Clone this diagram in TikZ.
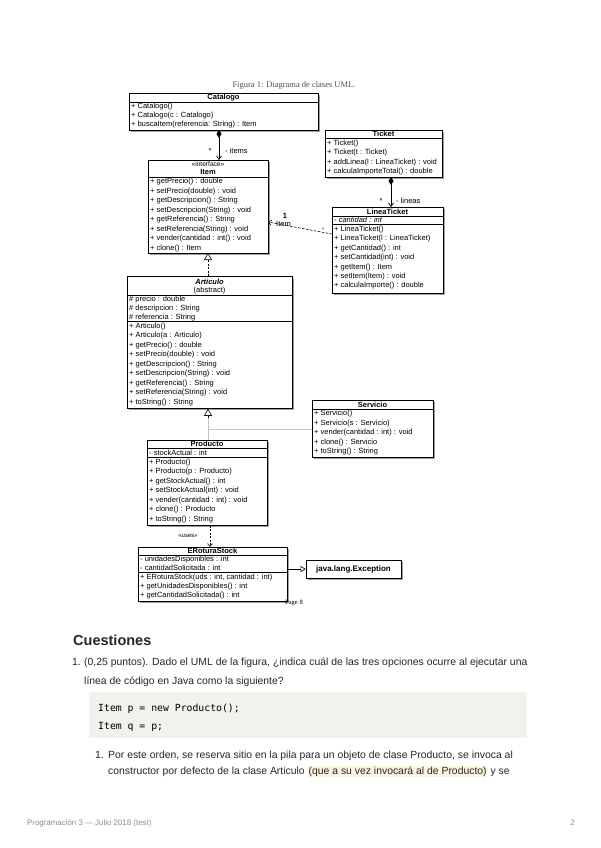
\documentclass[tikz,border=0pt]{standalone}
\usepackage{fontspec}
\setmainfont{Liberation Sans}
\newfontfamily\serifface{Liberation Serif}
\newfontfamily\monoface{DejaVu Sans Mono}
\usetikzlibrary{shadows,arrows.meta,calc}
\definecolor{codebg}{HTML}{F3F1EE}
\definecolor{hlcol}{HTML}{FDF4DF}
\definecolor{genline}{HTML}{C4C4C4}
\definecolor{footcol}{HTML}{8C8C8C}
\definecolor{captcol}{HTML}{505050}
\newcommand{\umlf}{\fontsize{7.5}{8}\selectfont}
\newcommand{\umlrows}[5]{%
  \foreach \t [count=\i from 0] in {#5} {%
    \node[umltxt] (#1\i) at (#2,{#3+#4*\i}) {\t};}}
\tikzset{
  umlbox/.style={draw, line width=0.8pt, fill=white, rectangle, inner sep=0pt, anchor=north west,
    drop shadow={shadow xshift=2pt, shadow yshift=-2pt, opacity=0.5, fill=black!75}},
  umltxt/.style={anchor=west, inner sep=0pt, font=\umlf},
  umltitle/.style={inner sep=0pt, font=\umlf\bfseries},
  sepline/.style={line width=0.6pt},
  body/.style={anchor=base west, inner sep=0pt, font=\fontsize{10.4}{12}\selectfont, text=black!85},
  codetxt/.style={anchor=base west, inner sep=0pt, font=\monoface\fontsize{9.8}{11}\selectfont, text=black},
}
\begin{document}
\begin{tikzpicture}[x=1pt,y=-1pt]
\useasboundingbox (0,0) rectangle (600,848);
\fill[white] (0,0) rectangle (600,848);

% caption
\node[inner sep=0pt, font=\serifface\fontsize{8.5}{9}\selectfont, text=captcol] (caption) at (294,85) {Figura 1: Diagrama de clases UML.};

% ---------- Catalogo
\node[umlbox, minimum width=189pt, minimum height=37pt] (catalogo) at (129,93) {};
\node[umltitle] (catT) at (223.5,97.5) {Catalogo};
\draw[sepline] (129,102) -- (318,102);
\umlrows{cat}{131}{107}{9}{{+ Catalogo()},{+ Catalogo(c : Catalogo)},{+ buscaItem(referencia: String) : Item}}

% ---------- Ticket
\node[umlbox, minimum width=117pt, minimum height=47pt] (ticket) at (325,130) {};
\node[umltitle] (ticT) at (383.5,134) {Ticket};
\draw[sepline] (325,138.5) -- (442,138.5);
\umlrows{tic}{327}{143.5}{9.5}{{+ Ticket()},{+ Ticket(t : Ticket)},{+ addLinea(l : LineaTicket) : void},{+ calculaImporteTotal() : double}}

% ---------- Item
\node[umlbox, minimum width=120pt, minimum height=93pt] (item) at (148,160) {};
\node[inner sep=0pt, font=\fontsize{6.6}{7}\selectfont] (itemS) at (208,164.5) {<<interface>>};
\node[umltitle] (itemT) at (208,172) {Item};
\draw[sepline] (148,177) -- (268,177);
\umlrows{itm}{150}{182}{9.5}{{+ getPrecio() : double},{+ setPrecio(double) : void},{+ getDescripcion() : String},{+ setDescripcion(String) : void},{+ getReferencia() : String},{+ setReferencia(String) : void},{+ vender(cantidad : int() : void},{+ clone() : Item}}

% ---------- LineaTicket
\node[umlbox, minimum width=111pt, minimum height=86pt] (linea) at (332,207) {};
\node[umltitle] (linT) at (387.5,211.5) {LineaTicket};
\draw[sepline] (332,216) -- (443,216);
\node[umltxt, font=\umlf\itshape] (linA) at (334,220.2) {- cantidad : int};
\draw[sepline] (332,224.5) -- (443,224.5);
\umlrows{lin}{334}{229.5}{9.4}{{+ LineaTicket()},{+ LineaTicket(l : LineaTicket)},{+ getCantidad() : int},{+ setCantidad(int) : void},{+ getItem() : Item},{+ setItem(Item) : void},{+ calculaImporte() : double}}

% ---------- Articulo
\node[umlbox, minimum width=165pt, minimum height=132pt] (articulo) at (127,276) {};
\node[umltitle, font=\umlf\bfseries\itshape] (artT) at (209.5,282) {Articulo};
\node[inner sep=0pt, font=\umlf] (artS) at (209.5,290.5) {(abstract)};
\draw[sepline] (127,295) -- (292,295);
\umlrows{arta}{129}{299.6}{8.8}{{\# precio : double},{\# descripcion : String},{\# referencia : String}}
\draw[sepline] (127,321.5) -- (292,321.5);
\umlrows{artm}{129}{326.5}{9.5}{{+ Articulo()},{+ Articulo(a : Articulo)},{+ getPrecio() : double},{+ setPrecio(double) : void},{+ getDescripcion() : String},{+ setDescripcion(String) : void},{+ getReferencia() : String},{+ setReferencia(String) : void},{+ toString() : String}}

% ---------- Servicio
\node[umlbox, minimum width=121pt, minimum height=57pt] (servicio) at (312,400) {};
\node[umltitle] (serT) at (372.5,404.5) {Servicio};
\draw[sepline] (312,409) -- (433,409);
\umlrows{ser}{314}{414}{9.5}{{+ Servicio()},{+ Servicio(s : Servicio)},{+ vender(cantidad : int) : void},{+ clone() : Servicio},{+ toString() : String}}

% ---------- Producto
\node[umlbox, minimum width=120pt, minimum height=85pt] (producto) at (147,440) {};
\node[umltitle] (proT) at (207,444) {Producto};
\draw[sepline] (147,448.5) -- (267,448.5);
\node[umltxt] (proA) at (149,453) {- stockActual : int};
\draw[sepline] (147,457.5) -- (267,457.5);
\umlrows{pro}{149}{462.5}{9.5}{{+ Producto()},{+ Producto(p : Producto)},{+ getStockActual() : int},{+ setStockActual(int) : void},{+ vender(cantidad : int) : void},{+ clone() : Producto},{+ toString() : String}}

% ---------- ERoturaStock
\node[umlbox, minimum width=149pt, minimum height=54pt] (erotura) at (138,547) {};
\node[umltitle] (eroT) at (212.5,551) {ERoturaStock};
\draw[sepline] (138,555) -- (287,555);
\umlrows{eroa}{140}{559.6}{8.6}{{- unidadesDisponibles : int},{- cantidadSolicitada : int}}
\draw[sepline] (138,572.6) -- (287,572.6);
\umlrows{erom}{140}{577.6}{9}{{+ ERoturaStock(uds : int, cantidad : int)},{+ getUnidadesDisponibles() : int},{+ getCantidadSolicitada() : int}}

% ---------- java.lang.Exception
\node[draw, line width=0.8pt, fill=white, minimum width=95pt, minimum height=18pt, inner sep=0pt,
  drop shadow={shadow xshift=2pt, shadow yshift=-2pt, opacity=0.5, fill=black!75},
  font=\fontsize{8}{9}\selectfont\bfseries] (exc) at (353.5,569) {java.lang.Exception};
\node[inner sep=0pt, font=\serifface\fontsize{6.5}{7}\selectfont] (page8) at (294,603.5) {Page 8};

% ---------- connectors
\coordinate (cdia) at (219,130);
\draw[line width=0.7pt, {Diamond[length=8pt,width=5pt]}-{Straight Barb[length=3.5pt,width=5pt]}] (cdia) -- (cdia |- item.north);
\node[inner sep=0pt, font=\umlf] (itemsStar) at (210,151) {*};
\node[umltxt] (itemsL) at (225,151) {- items};

\coordinate (tdia) at (391,177);
\draw[line width=0.7pt, {Diamond[length=8pt,width=5pt]}-{Straight Barb[length=3.5pt,width=5pt]}] (tdia) -- (tdia |- linea.north);
\node[inner sep=0pt, font=\umlf] (linStar) at (381,201) {*};
\node[umltxt] (linL) at (396,201) {- lineas};

\coordinate (lia) at (332,234);
\coordinate (ib) at (268,222);
\draw[line width=0.6pt, dash pattern=on 2.5pt off 1.5pt, -{Straight Barb[length=3pt,width=5pt]}] (lia) -- (ib);
\node[inner sep=0pt, font=\umlf\bfseries] (one) at (285,216) {1};
\node[umltxt] (itemRole) at (276,224) {Item};
\node[inner sep=0pt, font=\fontsize{5}{5}\selectfont] (caret) at (323,230) {\^{}};

\coordinate (itb) at (208,253);
\draw[line width=0.6pt, dash pattern=on 2pt off 1.5pt, -{Triangle[open,length=7pt,width=8pt]}] (itb |- articulo.north) -- (itb);

\coordinate (gj) at (208,429);
\coordinate (atri) at (208,418);
\draw[genline, line width=0.8pt] (gj |- producto.north) -- (atri);
\draw[genline, line width=0.8pt] (gj) -- (gj -| servicio.west);
\draw[line width=0.6pt, -{Triangle[open,length=7pt,width=8pt]}] (atri) -- (atri |- articulo.south);

\coordinate (ud) at (210,526);
\draw[line width=0.6pt, dash pattern=on 2pt off 1.5pt, -{Straight Barb[length=3pt,width=5pt]}] (ud |- producto.south) -- (ud |- erotura.north);
\node[inner sep=0pt, font=\fontsize{6}{6}\selectfont] (usesL) at (188,535.5) {<<uses>>};

\draw[line width=0.6pt, -{Triangle[open,length=5pt,width=6pt]}] (erotura.east |- exc.west) -- (exc.west);

% ---------- text of page
\node[anchor=base west, inner sep=0pt, font=\fontsize{14.5}{18}\selectfont\bfseries, text=black!85] (cuest) at (73,645) {Cuestiones};
\node[body] (q1n) at (72,665) {1.};
\node[body] (q1a) at (84,665) {(0,25 puntos). Dado el UML de la figura, ¿indica cuál de las tres opciones ocurre al ejecutar una};
\node[body] (q1b) at (84,684) {línea de código en Java como la siguiente?};

\node[fill=codebg, anchor=north west, minimum width=438pt, minimum height=46pt, inner sep=0pt] (codebox) at (89,692) {};
\node[codetxt] (code1) at (98,711) {Item p = new Producto();};
\node[codetxt] (code2) at (98,729) {Item q = p;};

\node[body] (s1n) at (95,758) {1.};
\node[body] (s1a) at (108,758) {Por este orden, se reserva sitio en la pila para un objeto de clase Producto, se invoca al};
\node[body] (s1b) at (108,774) {constructor por defecto de la clase Articulo};
\node[body, fill=hlcol, inner xsep=0.5pt, inner ysep=0pt, text depth=2.5pt, text height=8.5pt] (s1c) at ([xshift=3pt]s1b.base east) {(que a su vez invocará al de Producto)};
\node[body] (s1d) at ([xshift=3pt]s1c.base east) {y se};

\node[anchor=base west, inner sep=0pt, font=\fontsize{7.9}{9}\selectfont, text=footcol] (foot) at (27,825) {Programación 3 — Julio 2018 (test)};
\node[anchor=base east, inner sep=0pt, font=\fontsize{7.9}{9}\selectfont, text=footcol] (pnum) at (575,825) {2};
\end{tikzpicture}
\end{document}
